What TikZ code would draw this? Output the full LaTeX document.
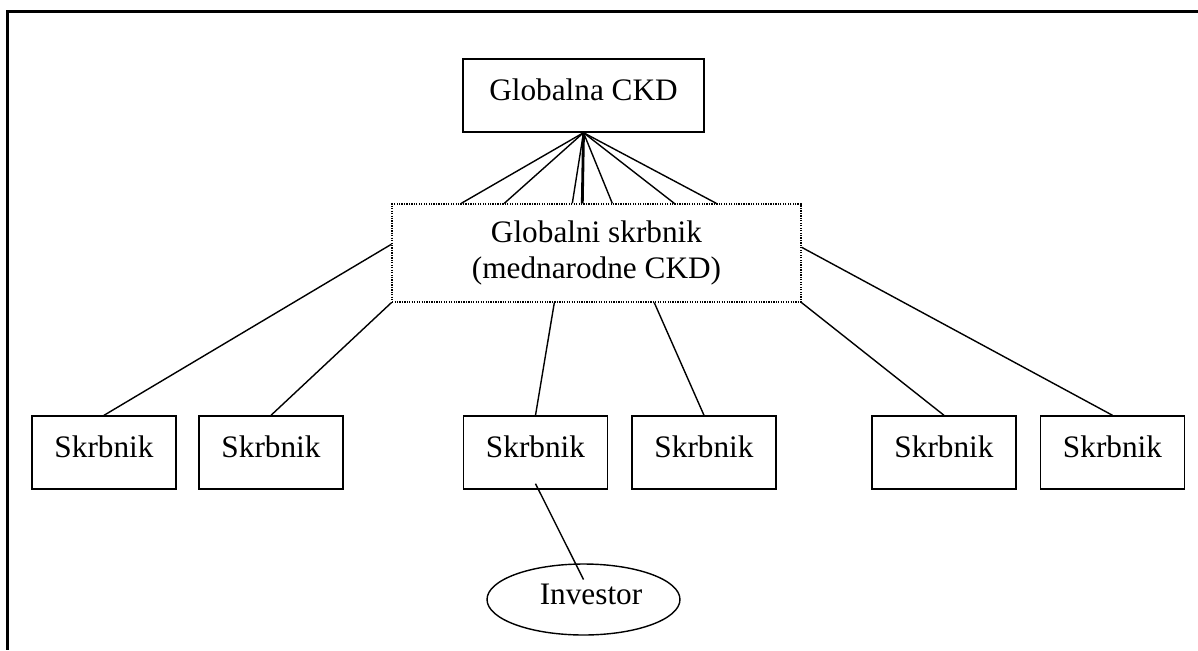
\documentclass[tikz,border=0pt]{standalone}
\usepackage{fontspec}
\setmainfont{Liberation Serif}
\usetikzlibrary{shapes.geometric}

\tikzset{
blok/.style={draw, line width=0.8pt, minimum width=2.88cm, minimum height=1.46cm, inner sep=0pt, text height=0.43cm, text depth=0.25cm},
pike/.style={draw, line width=0.8pt, dash pattern=on 0.7pt off 0.7pt, minimum width=8.18cm, minimum height=1.96cm, align=center},
oval/.style={draw, ellipse, line width=0.8pt, minimum width=3.86cm, minimum height=1.42cm, inner sep=0pt, text height=0.43cm, text depth=0.25cm}
}

\begin{document}
\begin{tikzpicture}[x=0.02cm,y=-0.02cm,font=\fontsize{17.8pt}{20.5pt}\selectfont]
\useasboundingbox (0,0) rectangle (1198,650);
\draw[line width=1.2pt] (1198,11.5) -- (7.5,11.5) -- (7.5,650);
\begin{scope}[line width=0.8pt]
\node[blok, minimum width=4.82cm] (ckd) at (583.5,95.5) {Globalna CKD};
\node[pike] (gs) at (596.5,253) {Globalni skrbnik\\(mednarodne CKD)};
\foreach \dx in {1.4,2.26,3.62,4.42,5.66,6.5}
  \draw (ckd.south) -- ([xshift=\dx cm]gs.north west);
\draw[line width=1.6pt] (ckd.south) -- ([xshift=3.82cm]gs.north west);
\node[blok] (s1) at (104,452.5) {Skrbnik};
\node[blok] (s2) at (271,452.5) {Skrbnik};
\node[blok] (s3) at (535.5,452.5) {Skrbnik};
\node[blok] (s4) at (704,452.5) {Skrbnik};
\node[blok] (s5) at (944,452.5) {Skrbnik};
\node[blok] (s6) at (1112.5,452.5) {Skrbnik};
\draw ([yshift=-0.82cm]gs.north west) -- (s1.north);
\draw (gs.south west) -- (s2.north);
\draw ([xshift=3.26cm]gs.south west) -- (s3.north);
\draw ([xshift=5.26cm]gs.south west) -- (s4.north);
\draw (gs.south east) -- (s5.north);
\draw ([yshift=-0.88cm]gs.north east) -- (s6.north);
\node[oval] (inv) at (583.5,599.5) {\hspace{0.3cm}Investor};
\draw ([yshift=0.12cm]s3.south) -- ([yshift=0.4cm]inv.center);
\end{scope}
\end{tikzpicture}
\end{document}
